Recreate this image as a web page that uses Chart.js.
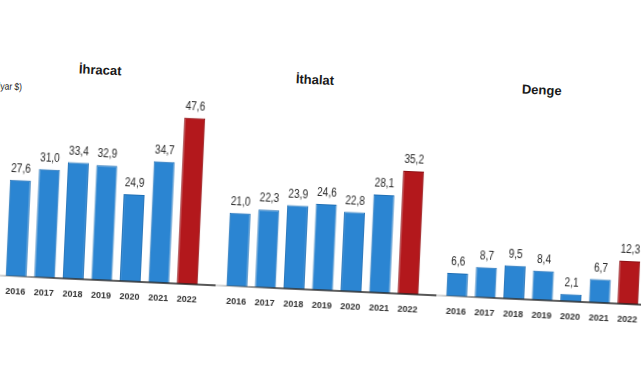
<!DOCTYPE html>
<html><head><meta charset="utf-8">
<script src="https://cdn.jsdelivr.net/npm/chart.js@4.4.0/dist/chart.umd.min.js"></script>
<style>
html,body{margin:0;padding:0;background:#fff;width:641px;height:380px;overflow:hidden}
#wrap{position:absolute;left:0;top:0;width:641px;height:380px;transform:rotate(2.6deg);transform-origin:320px 190px}
canvas{position:absolute;top:0}
.ttl{position:absolute;font:bold 13px "Liberation Sans",Arial,sans-serif;color:#1a1a1a;transform:translate(-50%,-50%);white-space:nowrap}
.unit{position:absolute;font:10px "Liberation Sans",sans-serif;color:#222;white-space:nowrap;transform:scaleX(0.85);transform-origin:right center}
</style></head>
<body><div id="wrap">
<div class="unit" style="right:623px;top:95px">(Milyar $)</div>
<div class="ttl" style="left:95px;top:80px">İhracat</div>
<div class="ttl" style="left:310px;top:80px">İthalat</div>
<div class="ttl" style="left:537px;top:80px">Denge</div>
<canvas id="c1" width="230" height="320" style="left:-9px"></canvas>
<canvas id="c2" width="230" height="320" style="left:212px"></canvas>
<canvas id="c3" width="230" height="320" style="left:432px"></canvas>
</div>
<script>
const years = ['2016','2017','2018','2019','2020','2021','2022'];
const ihracat = [27.6, 31.0, 33.4, 32.9, 24.9, 34.7, 47.6];
const ithalat = [21.0, 22.3, 23.9, 24.6, 22.8, 28.1, 35.2];
const denge = [6.6, 8.7, 9.5, 8.4, 2.1, 6.7, 12.3];
const BLUE = '#2b85d2', RED = '#b3181c';
const BLUE_B = '#1f6fb5', RED_B = '#8e1014';

const deco = {
  id: 'deco',
  afterDatasetsDraw(chart) {
    const ctx = chart.ctx, a = chart.chartArea, y0 = chart.scales.y.getPixelForValue(0);
    const g = ctx.createLinearGradient(a.left - 12, 0, a.right + 12, 0);
    g.addColorStop(0, 'rgba(80,80,80,0.2)');
    g.addColorStop(0.3, '#333');
    g.addColorStop(1, '#1e1e1e');
    ctx.save();
    ctx.strokeStyle = g; ctx.lineWidth = 1.5;
    ctx.beginPath(); ctx.moveTo(a.left - 12, y0); ctx.lineTo(a.right + 14, y0); ctx.stroke();
    const meta = chart.getDatasetMeta(0);
    const data = chart.data.datasets[0].data;
    ctx.font = '12px "Liberation Sans",Arial,sans-serif';
    ctx.fillStyle = '#2a2a2a'; ctx.textAlign = 'center'; ctx.textBaseline = 'middle';
    meta.data.forEach((bar, i) => {
      ctx.save();
      ctx.translate(bar.x, bar.y - 11);
      ctx.scale(0.84, 1);
      ctx.fillText(data[i].toFixed(1).replace('.', ','), 0, 0);
      ctx.restore();
    });
    ctx.restore();
  }
};

function make(id, values) {
  new Chart(document.getElementById(id), {
    type: 'bar',
    data: {
      labels: years,
      datasets: [{
        data: values,
        backgroundColor: years.map((y, i) => i === years.length - 1 ? RED : BLUE),
        borderColor: years.map((y, i) => i === years.length - 1 ? RED_B : BLUE_B),
        borderWidth: {top: 1, left: 1, right: 1, bottom: 0},
        categoryPercentage: 1,
        barPercentage: 0.735
      }]
    },
    options: {
      responsive: false, animation: false,
      devicePixelRatio: 1,
      layout: {padding: {left: 15, right: 15, top: 98, bottom: 0}},
      plugins: {legend: {display: false}, tooltip: {enabled: false}, title: {display: false}},
      scales: {
        y: {display: false, min: 0, max: 55},
        x: {
          grid: {display: false}, border: {display: false},
          ticks: {padding: 2, maxRotation: 0, color: '#333',
            font: {family: '"Liberation Sans",Arial,sans-serif', size: 9, weight: 'bold'}},
          afterFit(scale) { scale.height = 30; }
        }
      }
    },
    plugins: [deco]
  });
}
make('c1', ihracat);
make('c2', ithalat);
make('c3', denge);
</script>
</body></html>
